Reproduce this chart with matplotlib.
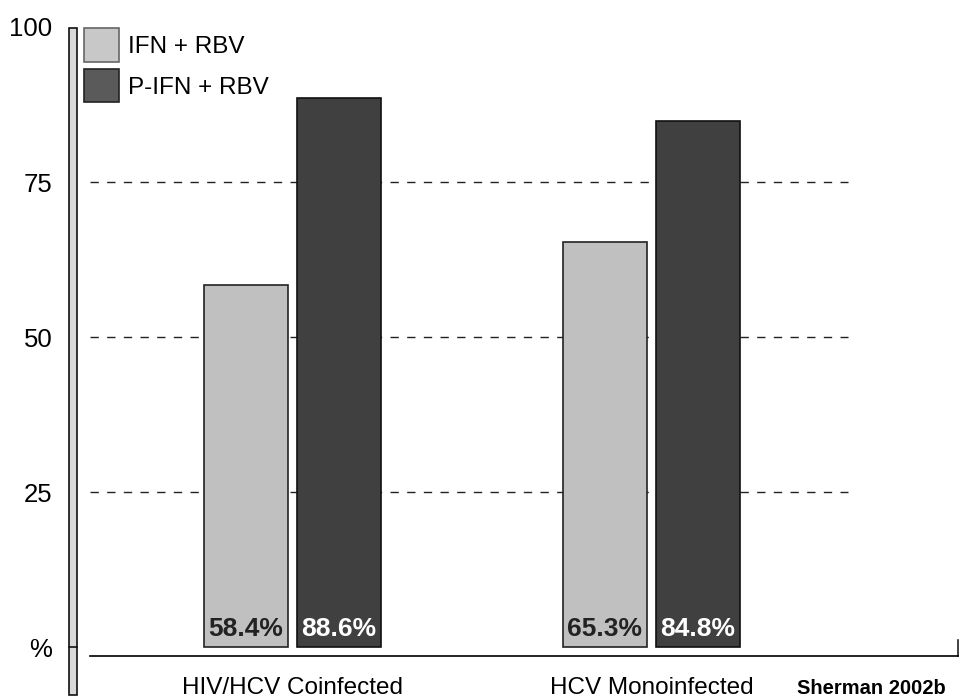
import matplotlib
matplotlib.use('Agg')
import matplotlib.pyplot as plt
from matplotlib.patches import Patch, Rectangle

groups = ['HIV/HCV Coinfected', 'HCV Monoinfected']
series = ['IFN + RBV', 'P-IFN + RBV']
ifn_rbv = [58.4, 65.3]
pifn_rbv = [88.6, 84.8]
yticks = [0, 25, 50, 75, 100]
ytick_labels = ['%', '25', '50', '75', '100']
source = 'Sherman 2002b'

light = '#c0c0c0'
dark = '#404040'
fam = ['Liberation Sans Narrow', 'Liberation Sans', 'DejaVu Sans']
plt.rcParams['font.family'] = fam

W, H = 961, 700
fig = plt.figure(figsize=(9.61, 7.0), dpi=100)
ax = fig.add_axes([90 / W, 44 / H, 868 / W, 629 / H])
ax.set_ylim(-1.45, 100)
ax.set_xlim(-0.564, 1.854)

w = 0.234
off = 0.1295
x = [0, 1]
b1 = ax.bar([i - off for i in x], ifn_rbv, width=w, color=light, edgecolor='#222222', linewidth=1.2, zorder=3)
b2 = ax.bar([i + off for i in x], pifn_rbv, width=w, color=dark, edgecolor='#111111', linewidth=1.2, zorder=3)

for bars, vals, tc in [(b1, ifn_rbv, '#222222'), (b2, pifn_rbv, 'white')]:
    for r, v in zip(bars, vals):
        ax.text(r.get_x() + r.get_width() / 2, 0.9, f'{v}%', ha='center', va='bottom',
                fontsize=19, fontweight='bold', color=tc, zorder=4)

for yv in [25, 50, 75]:
    ax.axhline(yv, xmin=0, xmax=(848 - 90) / 868, color='#222222', lw=1.0,
               linestyle=(0, (6, 6)), zorder=1)

for s in ['top', 'right', 'left']:
    ax.spines[s].set_visible(False)
ax.spines['bottom'].set_linewidth(1.2)
ax.axvline(1.854, ymin=0, ymax=16 / 629, color='#222222', lw=1.2, clip_on=False)

ax.set_yticks(yticks)
ax.set_yticklabels(ytick_labels, fontsize=18.5)
ax.tick_params(axis='y', length=0, pad=27)
ax.set_xticks(x)
ax.set_xticklabels(groups, fontsize=17.5)
ax.tick_params(axis='x', length=0, pad=15)

# grey bar left of the y labels
fig.patches.append(Rectangle((69 / W, 5 / H), 8 / W, 667 / H, transform=fig.transFigure,
                             facecolor='#d9d9d9', edgecolor='#111111', lw=1.2))
fig.lines.append(plt.Line2D([69 / W, 77 / W], [53 / H, 53 / H], transform=fig.transFigure,
                            color='#111111', lw=1.2))

handles = [Patch(facecolor='#c8c8c8', edgecolor='#666666', lw=1.2),
           Patch(facecolor='#5a5a5a', edgecolor='#222222', lw=1.2)]
fig.legend(handles, series, loc='upper left', bbox_to_anchor=(84 / W, 1 - 28 / H),
           frameon=False, fontsize=17.5, borderpad=0, borderaxespad=0,
           handlelength=1.45, handleheight=1.75, handletextpad=0.35, labelspacing=0.3)

fig.text(871 / W, 1 - 688 / H, source, ha='center', va='center', fontsize=14.5, fontweight='bold')

fig.savefig('out.png', dpi=100)
